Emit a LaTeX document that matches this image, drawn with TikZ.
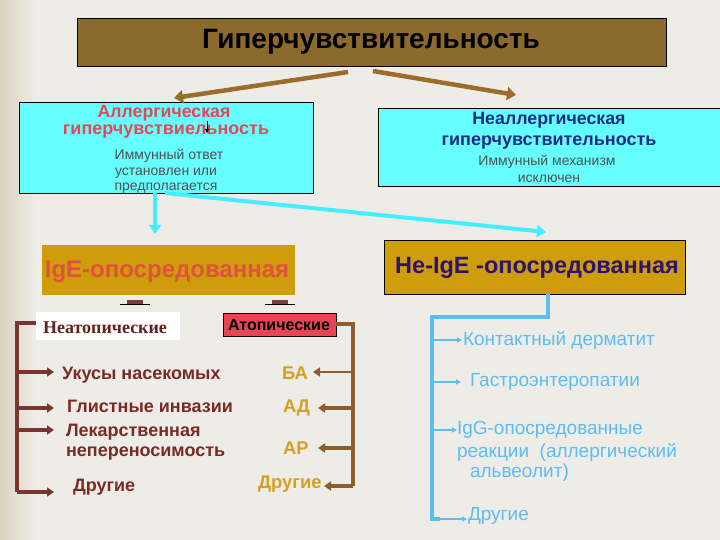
\documentclass[tikz,border=0pt]{standalone}
\usepackage{fontspec}
\setmainfont{Liberation Sans}
\newfontfamily\serifb{Liberation Serif}
\usetikzlibrary{arrows.meta}
\definecolor{bg}{HTML}{EDECE7}
\definecolor{bgedge}{HTML}{DCD3BF}
\definecolor{titlebr}{HTML}{8B6A2E}
\definecolor{arrbr}{HTML}{9C6C2C}
\definecolor{cyanbox}{HTML}{66FFFF}
\definecolor{cyanarr}{HTML}{44EEFF}
\definecolor{goldbox}{HTML}{CF9C0A}
\definecolor{redtxt}{HTML}{E8455A}
\definecolor{navy}{HTML}{1C2A88}
\definecolor{graytxt}{HTML}{505050}
\definecolor{igered}{HTML}{E25040}
\definecolor{purp}{HTML}{2A1470}
\definecolor{darkred}{HTML}{7A2A25}
\definecolor{lbrown}{HTML}{7A3530}
\definecolor{rbrown}{HTML}{8A5E2E}
\definecolor{goldtxt}{HTML}{D4A021}
\definecolor{lblue}{HTML}{5DBDF0}
\definecolor{atored}{HTML}{E84455}
\definecolor{markbr}{HTML}{7A4038}
\tikzset{
  box/.style={draw=black, line width=0.8pt, inner sep=0pt},
  txt/.style={inner sep=0pt, outer sep=0pt},
  fz/.style={font=\fontsize{#1}{#1}\selectfont},
  fzb/.style={font=\fontsize{#1}{#1}\selectfont\bfseries},
  brarr/.style={draw=arrbr, line width=4.5pt, -{Triangle[length=9pt,width=13pt]}},
  cyarr/.style={draw=cyanarr, line width=4pt, -{Triangle[length=9pt,width=12pt]}},
  lbr/.style={draw=lbrown, line width=3.8pt},
  lbra/.style={lbr, -{Triangle[length=7pt,width=9pt]}},
  rbr/.style={draw=rbrown, line width=3.5pt},
  rbra/.style={rbr, -{Triangle[length=7pt,width=9pt]}},
  bbr/.style={draw=lblue, line width=3.5pt},
  bbra/.style={draw=lblue, line width=1.5pt, -{Triangle[length=5pt,width=5pt]}},
}
\begin{document}
\begin{tikzpicture}[x=1pt,y=-1pt]
\useasboundingbox (0,0) rectangle (720,540);
\fill[bg] (0,0) rectangle (720,540);
\shade[left color=bgedge, right color=bg] (0,0) rectangle (35,540);

% title
\node[box, fill=titlebr, minimum width=589pt, minimum height=48pt] (title) at (371.5,42) {};
\node[txt, fzb=28, text=black] (titlet) at (371,42) {Гиперчувствительность};

% left cyan box
\node[box, fill=cyanbox, minimum width=294pt, minimum height=91pt] (ab) at (166,147.5) {};
\node[txt, fzb=17.7, text=redtxt] (ab1) at (164,113) {Аллергическая};
\node[txt, fzb=18, text=redtxt] (ab2) at (166,132) {гиперчувствиельность};
\node[txt, fz=14, text=graytxt] (ab3) at (169,156) {Иммунный ответ};
\node[txt, fz=14, text=graytxt] (ab4) at (166,173) {установлен или};
\node[txt, fz=14, text=graytxt] (ab5) at (166,188) {предполагается};
\coordinate (kt) at (207,121);
\coordinate (kb) at (207,133);
\draw[line width=1pt, -{Triangle[length=4pt,width=4pt]}] (kt) -- (kb);

% right cyan box
\node[box, fill=cyanbox, minimum width=346pt, minimum height=78pt] (nb) at (551,147) {};
\node[txt, fzb=17.8, text=navy] (nb1) at (549,120) {Неаллергическая};
\node[txt, fzb=18, text=navy] (nb2) at (549,143) {гиперчувствительность};
\node[txt, fz=14, text=graytxt] (nb3) at (547,162) {Иммунный механизм};
\node[txt, fz=14, text=graytxt] (nb4) at (549,179) {исключен};

% brown arrows
\coordinate (bl0) at (348,72);
\coordinate (bl1) at (174,98);
\coordinate (br0) at (373,71);
\coordinate (br1) at (516,95);
\draw[brarr] (bl0) -- (bl1);
\draw[brarr] (br0) -- (br1);

% IgE boxes
\node[fill=goldbox, inner sep=0pt, minimum width=253pt, minimum height=50pt] (ige) at (168.5,270) {};
\node[txt, fzb=24, text=igered] (iget) at (167,272) {IgE-опосредованная};
\node[box, fill=goldbox, minimum width=301pt, minimum height=54pt] (nige) at (535,267) {};
\node[txt, fzb=23.5, text=purp] (niget) at (537,268) {Не-IgE -опосредованная};

% cyan arrows
\coordinate (c0) at (155,193);
\coordinate (c1) at (155,234);
\coordinate (d0) at (165,193);
\coordinate (d1) at (546,232);
\draw[cyarr] (c0) -- (c1);
\draw[cyarr] (d0) -- (d1);

% small marks
\foreach \mx in {135,280}{
  \draw[black, line width=0.8pt] (\mx-15,304.5) -- (\mx+15,304.5);
  \fill[markbr] (\mx-8,299.5) rectangle (\mx+8,304);
}

% Неатопические / Атопические
\node[fill=white, inner sep=0pt, minimum width=144pt, minimum height=28pt] (neat) at (108,326) {};
\node[txt, font=\serifb\fontsize{18}{18}\selectfont\bfseries, text=darkred!80!black] (neatt) at (105,328) {Неатопические};
\node[box, fill=atored, minimum width=113pt, minimum height=23pt] (ato) at (279.5,324.5) {};
\node[txt, fzb=16, text=black] (atot) at (279,325) {Атопические};

% left list
\node[txt, fzb=18, text=darkred, anchor=west] (l1) at (62,375) {Укусы насекомых};
\node[txt, fzb=18, text=darkred, anchor=west] (l2) at (67,406) {Глистные инвазии};
\node[txt, fzb=18, text=darkred, anchor=west] (l3) at (66,432) {Лекарственная};
\node[txt, fzb=18, text=darkred, anchor=west] (l3b) at (66,454) {непереносимость};
\node[txt, fzb=18, text=darkred, anchor=west] (l4) at (73,487) {Другие};
\coordinate (lsp) at (17,0);
\coordinate (ltp) at (54,0);
\coordinate (lbot) at (17,492);
\draw[lbr] (neat.west |- 0,323) -- (17,323) -- (lbot);
\draw[lbra] (lsp |- 0,372) -- (ltp |- 0,372);
\draw[lbra] (lsp |- 0,408) -- (ltp |- 0,408);
\draw[lbra] (lsp |- 0,430) -- (ltp |- 0,430);
\draw[lbra] (lbot) -- (ltp |- lbot);

% right list
\node[txt, fzb=18.4, text=goldtxt, anchor=west] (r1) at (282,373) {БА};
\node[txt, fzb=18.4, text=goldtxt, anchor=west] (r2) at (283,408) {АД};
\node[txt, fzb=18.4, text=goldtxt, anchor=west] (r3) at (283,448) {АР};
\node[txt, fzb=18.4, text=goldtxt, anchor=west] (r4) at (258,484) {Другие};
\coordinate (rsp) at (353,0);
\coordinate (rbot) at (353,486);
\draw[rbr] (ato.east |- 0,324) -- (353,324) -- (rbot);
\draw[rbra, line width=2.5pt] (rsp |- 0,372) -- (313,372);
\draw[rbra] (rsp |- 0,408) -- (318,408);
\draw[rbra] (rsp |- 0,448) -- (318,448);
\draw[rbra] (rbot) -- (324,486);

% blue list
\node[txt, fz=19, text=lblue, anchor=west] (b1) at (463,340) {Контактный дерматит};
\node[txt, fz=19, text=lblue, anchor=west] (b2) at (470,382) {Гастроэнтеропатии};
\node[txt, fz=19, text=lblue, anchor=west] (b3) at (457,430) {IgG-опосредованные};
\node[txt, fz=19, text=lblue, anchor=west] (b3b) at (457,452) {реакции\ \ (аллергический};
\node[txt, fz=19, text=lblue, anchor=west] (b3c) at (470,473) {альвеолит)};
\node[txt, fz=19, text=lblue, anchor=west] (b4) at (468,516) {Другие};
\coordinate (bx) at (548,0);
\coordinate (bsp) at (432,0);
\coordinate (bbot) at (432,519);
\draw[bbr] (nige.south -| bx) -- (548,317) -- (432,317) -- (bbot) -- (440,519);
\draw[bbra] (bsp |- 0,340) -- (462,340);
\draw[bbra] (bsp |- 0,382) -- (461,382);
\draw[bbra] (bsp |- 0,430) -- (457,430);
\draw[bbra] (440,519) -- (467,519);
\end{tikzpicture}
\end{document}
